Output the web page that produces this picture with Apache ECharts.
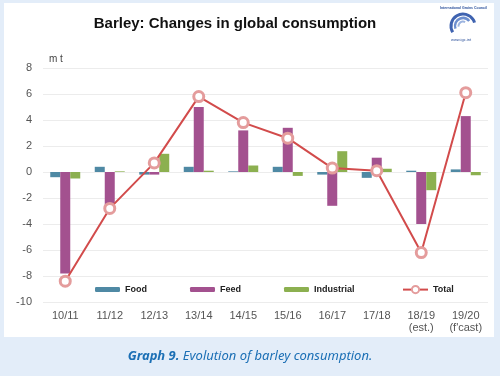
<!DOCTYPE html>
<html>
<head>
<meta charset="utf-8">
<script src="https://cdn.jsdelivr.net/npm/echarts@6/dist/echarts.min.js"></script>
<style>
  html, body { margin: 0; padding: 0; background: #e3edf9; }
  #chart { width: 500px; height: 376px; }
</style>
</head>
<body>
<div id="chart"></div>
<script>
// marketing years
const categories = ["10/11", "11/12", "12/13", "13/14", "14/15", "15/16", "16/17", "17/18", "18/19\n(est.)", "19/20\n(f'cast)"];
// changes, million tonnes
const food = [-0.4, 0.4, -0.2, 0.4, 0.05, 0.4, -0.2, -0.45, 0.1, 0.2];
const feed = [-7.8, -2.7, -0.2, 5.0, 3.2, 3.4, -2.6, 1.1, -4.0, 4.3];
const industrial = [-0.5, 0.05, 1.4, 0.1, 0.5, -0.3, 1.6, 0.25, -1.4, -0.25];
const total = [-8.4, -2.8, 0.7, 5.8, 3.8, 2.6, 0.3, 0.1, -6.2, 6.1];

const chart = echarts.init(document.getElementById("chart"));

const barSeries = (name, data, color) => ({
  name: name,
  type: "bar",
  data: data,
  barWidth: 10,
  barGap: "0%",
  itemStyle: { color: color },
});

const option = {
  backgroundColor: "#e3edf9",
  animation: false,
  textStyle: { fontFamily: "Liberation Sans, Arial, sans-serif" },
  title: {
    text: "Barley: Changes in global consumption",
    left: 230,
    textAlign: "center",
    top: 11,
    textStyle: { fontSize: 15, fontWeight: "bold", color: "#111" },
  },
  graphic: [
    {
      type: "rect",
      z: -10,
      shape: { x: 4, y: 3, width: 490, height: 334 },
      style: { fill: "#fff" },
    },
    {
      type: "text",
      left: "center",
      top: 350,
      style: {
        text: "{b|Graph 9.} {i|Evolution of barley consumption.}",
        rich: {
          b: { fontSize: 13, fontWeight: "bold", fontStyle: "italic", fill: "#1b6fb5", fontFamily: "Noto Sans" },
          i: { fontSize: 13, fontStyle: "italic", fill: "#1b6fb5", fontFamily: "Noto Sans" },
        },
      },
    },
    // IGC logo
    {
      type: "group",
      left: 440,
      top: 6,
      children: [
        { type: "text", x: 0, y: 0, style: { text: "International Grains Council", fontSize: 3.5, fontWeight: "bold", fill: "#2a4f9a" } },
        { type: "arc", shape: { cx: 23, cy: 20, r: 12, startAngle: 2.6, endAngle: 6.0 }, style: { stroke: "#3f63b0", lineWidth: 3, fill: null } },
        { type: "arc", shape: { cx: 23, cy: 20, r: 8, startAngle: 2.8, endAngle: 5.6 }, style: { stroke: "#6d8fcf", lineWidth: 2.5, fill: null } },
        { type: "arc", shape: { cx: 23, cy: 20, r: 4.5, startAngle: 3.0, endAngle: 5.2 }, style: { stroke: "#9cb4e0", lineWidth: 2, fill: null } },
        { type: "text", x: 11, y: 32, style: { text: "www.igc.int", fontSize: 4, fill: "#2a4f9a" } },
      ],
    },
  ],
  legend: [
    {
      data: ["Food", "Feed", "Industrial"],
      left: 90,
      top: 280,
      itemWidth: 25,
      itemHeight: 5,
      itemGap: 43,
      textStyle: { fontSize: 9, fontWeight: "bold", color: "#222" },
    },
    {
      data: ["Total"],
      left: 397,
      top: 280,
      itemWidth: 25,
      itemHeight: 9,
      textStyle: { fontSize: 9, fontWeight: "bold", color: "#222" },
    },
  ],
  grid: { left: 43, right: 12, top: 68, bottom: 74 },
  xAxis: {
    type: "category",
    data: categories,
    axisLine: { show: false, onZero: false },
    axisTick: { show: false },
    axisLabel: { color: "#555", fontSize: 11, margin: 8, lineHeight: 12, interval: 0 },
  },
  yAxis: {
    type: "value",
    min: -10,
    max: 8,
    interval: 2,
    name: "m t",
    nameLocation: "end",
    nameGap: 4,
    nameTextStyle: { align: "left", color: "#444", fontSize: 10, padding: [0, 0, 0, 6] },
    axisLine: { show: false },
    axisTick: { show: false },
    axisLabel: { color: "#555", fontSize: 11, margin: 11 },
    splitLine: { lineStyle: { color: "#ececec", width: 1 } },
  },
  series: [
    barSeries("Food", food, "#4f89a4"),
    barSeries("Feed", feed, "#a3518f"),
    barSeries("Industrial", industrial, "#8cb050"),
    {
      name: "Total",
      type: "line",
      data: total,
      symbol: "circle",
      symbolSize: 10,
      lineStyle: { color: "#d24b4b", width: 2 },
      itemStyle: { color: "#fff", borderColor: "#e49c9c", borderWidth: 3 },
      z: 5,
    },
  ],
};

chart.setOption(option);
</script>
</body>
</html>
